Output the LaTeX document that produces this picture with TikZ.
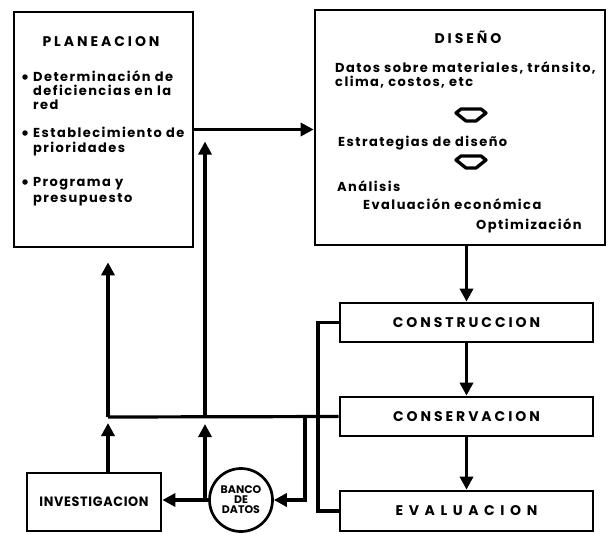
\documentclass[tikz,border=0pt]{standalone}
\usepackage{fontspec}
\setmainfont{Poppins}
\newfontfamily\hdfont[LetterSpace=21]{Poppins}
\newfontfamily\evfont[LetterSpace=40]{Poppins}
\newfontfamily\bdfont[LetterSpace=11]{Poppins}
\newfontfamily\ivfont[LetterSpace=5]{Poppins}
\usetikzlibrary{arrows.meta,calc}
\tikzset{
  box/.style={draw, line width=2.7pt, inner sep=0pt},
  head/.style={font=\hdfont\bfseries\fontsize{14}{14}\selectfont, inner sep=0pt},
  evhead/.style={font=\evfont\bfseries\fontsize{14}{14}\selectfont, inner sep=0pt},
  body/.style={font=\bdfont\bfseries\fontsize{13}{13}\selectfont, inner sep=0pt, anchor=base west},
  dot/.style={circle, fill, inner sep=0pt, minimum size=5.5pt},
  conn/.style={line width=3.2pt},
  arr/.style={line width=3.5pt, -{Triangle[length=13pt,width=13pt]}},
  hexa/.style={line width=3.3pt, line join=round},
}
\begin{document}
\begin{tikzpicture}[x=1pt,y=-1pt]
\useasboundingbox (0,0) rectangle (615,533);
% main boxes
\node[box, minimum width=179pt, minimum height=235pt] (plan) at (103.5,129.5) {};
\node[box, minimum width=290pt, minimum height=235pt] (dis) at (460,127.5) {};
\node[box, minimum width=253pt, minimum height=39pt, head] (cons) at (466.5,322.5) {CONSTRUCCION};
\node[box, minimum width=253pt, minimum height=39pt, head] (conserv) at (466.5,416.5) {CONSERVACION};
\node[box, minimum width=253pt, minimum height=40pt, evhead] (eval) at (466.5,511) {EVALUACION};
\node[box, minimum width=134pt, minimum height=58pt, font=\ivfont\bfseries\fontsize{13.5}{13.5}\selectfont] (inv) at (94,502) {\scalebox{0.95}[1]{INVESTIGACION}};
\node[box, circle, minimum size=63pt, inner sep=0pt, align=center, font=\bfseries\fontsize{11}{10}\selectfont] (banco) at (241,500) {BANCO\\DE\\DATOS};
% PLANEACION text
\node[head] (pt) at (101,42) {PLANEACION};
\node[dot] (d1) at (25,77) {};
\node[body] (p11) at (33,81) {Determinación de};
\node[body] (p12) at (33,95) {deficiencias en la};
\node[body] (p13) at (33,109) {red};
\node[dot] (d2) at (25,133) {};
\node[body] (p21) at (33,137) {Establecimiento de};
\node[body] (p22) at (33,152) {prioridades};
\node[dot] (d3) at (25,182) {};
\node[body] (p31) at (33,186) {Programa y};
\node[body] (p32) at (33,202) {presupuesto};
% DISENO text
\node[head] (dt) at (468,37) {DISEÑO};
\node[body] (q1) at (335,72) {Datos sobre materiales, tránsito,};
\node[body] (q2) at (335,86) {clima, costos, etc};
\node[body] (q3) at (338,146) {Estrategias de diseño};
\node[body] (q4) at (337,191) {Análisis};
\node[body] (q5) at (363,209) {Evaluación económica};
\node[body] (q6) at (476,229) {Optimización};
\coordinate (h1) at (471,115);
\coordinate (h2) at (471,162);
\draw[hexa, shift={(h1)}] (-15,-2) -- (-10,-6) -- (10,-6) -- (15,-2) -- (5,6) -- (-5,6) -- cycle;
\draw[hexa, shift={(h2)}] (-15,-2) -- (-10,-6) -- (10,-6) -- (15,-2) -- (5,6) -- (-5,6) -- cycle;
% connectors
\coordinate (busL) at (108,417);
\coordinate (busM) at (205,417);
\coordinate (busR) at (305,417);
\coordinate (jn) at (205,500);
\coordinate (brk) at (318,322.5);
\draw[arr] (plan.east) -- (plan.east -| dis.west);
\draw[conn] (conserv.west) -- (busL);
\draw[arr, shorten >=14pt] (busL) -- (busL |- plan.south);
\draw[arr, shorten >=12pt] (busM) -- (busM |- plan.east);
\draw[conn] (cons.west) -- (brk) |- (eval.west);
\draw[arr] (busR) |- (banco.east);
\draw[arr] (banco.west) -- (inv.east |- banco.west);
\draw[arr, shorten >=7pt] (jn) -- (busM);
\draw[arr, shorten >=6pt] (busL |- inv.north) -- (busL);
\draw[arr] (dis.south -| cons.north) -- (cons.north);
\draw[arr] (cons.south) -- (conserv.north);
\draw[arr] (conserv.south) -- (eval.north);
\end{tikzpicture}
\end{document}
